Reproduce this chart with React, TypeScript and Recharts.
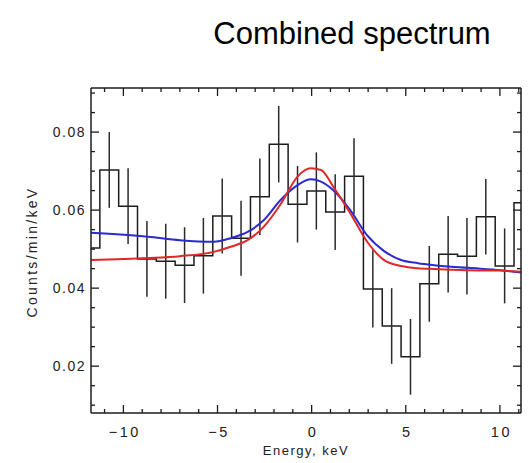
import { ComposedChart, Line, Scatter, ErrorBar, XAxis, YAxis } from 'recharts';

// histogram bin edges (keV) and count rate starting at each edge
const binEdges = [-11.72, -11.25, -10.25, -9.25, -8.25, -7.25, -6.25, -5.25, -4.25, -3.25, -2.25, -1.25, -0.25, 0.75, 1.75, 2.75, 3.75, 4.75, 5.75, 6.75, 7.75, 8.75, 9.75, 10.75, 11.12];
const binRates = [0.0503, 0.0703, 0.061, 0.0475, 0.0469, 0.0459, 0.0483, 0.0585, 0.0528, 0.0634, 0.0769, 0.0615, 0.0649, 0.0595, 0.0687, 0.0398, 0.0303, 0.0224, 0.0411, 0.0487, 0.0482, 0.0583, 0.0457, 0.0619, 0.0619];

// error bars at bin centres
const errCentres = [-10.75, -9.75, -8.75, -7.75, -6.75, -5.75, -4.75, -3.75, -2.75, -1.75, -0.75, 0.25, 1.25, 2.25, 3.25, 4.25, 5.25, 6.25, 7.25, 8.25, 9.25, 10.25];
const errRates = [0.0703, 0.061, 0.0475, 0.0469, 0.0459, 0.0483, 0.0585, 0.0528, 0.0634, 0.0769, 0.0615, 0.0649, 0.0595, 0.0687, 0.0398, 0.0303, 0.0224, 0.0411, 0.0487, 0.0482, 0.0583, 0.0457];
const errSizes = [0.0097, 0.0097, 0.0097, 0.0096, 0.0097, 0.0097, 0.0096, 0.0096, 0.0098, 0.0098, 0.0098, 0.0099, 0.0097, 0.0097, 0.0099, 0.0097, 0.0097, 0.0097, 0.0098, 0.0098, 0.0097, 0.0096];

// model curves
const modelEnergy = [-11.72, -8.7, -7.0, -5.2, -4.3, -3.4, -2.55, -1.65, -0.75, -0.05, 0.5, 1.15, 2.05, 2.95, 3.85, 4.75, 5.65, 6.5, 8.3, 10.05, 11.12];
const redModel = [0.0472, 0.0477, 0.0482, 0.0493, 0.0506, 0.0523, 0.0557, 0.0615, 0.0686, 0.0707, 0.0703, 0.066, 0.0592, 0.0519, 0.0472, 0.0457, 0.0451, 0.0449, 0.0446, 0.0445, 0.0442];
const blueModel = [0.0542, 0.0532, 0.0523, 0.0519, 0.0528, 0.0544, 0.0574, 0.0626, 0.0664, 0.0679, 0.0673, 0.0651, 0.06, 0.0535, 0.0495, 0.0472, 0.0464, 0.0459, 0.0452, 0.0446, 0.044];

const xTicks = [-11, -10, -9, -8, -7, -6, -5, -4, -3, -2, -1, 0, 1, 2, 3, 4, 5, 6, 7, 8, 9, 10, 11];
const yTicks = [0.01, 0.015, 0.02, 0.025, 0.03, 0.035, 0.04, 0.045, 0.05, 0.055, 0.06, 0.065, 0.07, 0.075, 0.08, 0.085, 0.09];
const yLabels = [0.02, 0.04, 0.06, 0.08];

const histData = binEdges.map((x, i) => ({ x, v: binRates[i] }));
const errData = errCentres.map((x, i) => ({ x, v: errRates[i], e: errSizes[i] }));
const redData = modelEnergy.map((x, i) => ({ x, v: redModel[i] }));
const blueData = modelEnergy.map((x, i) => ({ x, v: blueModel[i] }));

const INK = '#1c1c1c';
const FONT = '"Liberation Sans", Arial, sans-serif';

const isMajorX = (v: number) => Math.abs(v % 5) < 1e-6;
const isMajorY = (v: number) => yLabels.some((l) => Math.abs(l - v) < 1e-6);

const BottomTick = ({ x, y, payload }: any) => {
  const major = isMajorX(payload.value);
  return (
    <g>
      <line x1={x} x2={x} y1={y} y2={y - (major ? 8 : 4)} stroke={INK} strokeWidth={1.3} />
      {major && (
        <text x={x + 1.5} y={y + 24} textAnchor="middle" fontSize={14.5} letterSpacing={2.5} fill="#222" fontFamily={FONT}>
          {payload.value < 0 ? '\u2212' + Math.abs(payload.value) : payload.value}
        </text>
      )}
    </g>
  );
};

const TopTick = ({ x, y, payload }: any) => {
  const major = isMajorX(payload.value);
  return <line x1={x} x2={x} y1={y} y2={y + (major ? 8 : 4)} stroke={INK} strokeWidth={1.3} />;
};

const LeftTick = ({ x, y, payload }: any) => {
  const major = isMajorY(payload.value);
  return (
    <g>
      <line x1={x} x2={x + (major ? 8 : 4)} y1={y} y2={y} stroke={INK} strokeWidth={1.3} />
      {major && (
        <text x={x - 5} y={y + 5} textAnchor="end" fontSize={14} letterSpacing={1.5} fill="#222" fontFamily={FONT}>
          {payload.value.toFixed(2)}
        </text>
      )}
    </g>
  );
};

const RightTick = ({ x, y, payload }: any) => {
  const major = isMajorY(payload.value);
  return <line x1={x} x2={x - (major ? 8 : 4)} y1={y} y2={y} stroke={INK} strokeWidth={1.3} />;
};

const NoDot = () => <g />;

export default function App() {
  return (
    <div style={{ position: 'absolute', left: 0, top: 0, width: 529, height: 463, background: '#fff' }}>
      <ComposedChart width={529} height={463} margin={{ top: 87, right: 7, bottom: 49, left: 90 }}>
        <XAxis xAxisId="b" dataKey="x" type="number" domain={[-11.72, 11.12]} ticks={xTicks} allowDataOverflow
          orientation="bottom" height={1} tickSize={0} tickMargin={0} tick={<BottomTick />} axisLine={{ stroke: INK, strokeWidth: 1.5 }} tickLine={false} interval={0} />
        <XAxis xAxisId="t" dataKey="x" type="number" domain={[-11.72, 11.12]} ticks={xTicks} allowDataOverflow
          orientation="top" height={1} tickSize={0} tickMargin={0} tick={<TopTick />} axisLine={{ stroke: INK, strokeWidth: 1.5 }} tickLine={false} interval={0} />
        <YAxis yAxisId="l" type="number" domain={[0.008, 0.0913]} ticks={yTicks} allowDataOverflow
          orientation="left" width={1} tickSize={0} tickMargin={0} tick={<LeftTick />} axisLine={{ stroke: INK, strokeWidth: 1.5 }} tickLine={false} interval={0} />
        <YAxis yAxisId="r" type="number" domain={[0.008, 0.0913]} ticks={yTicks} allowDataOverflow
          orientation="right" width={1} tickSize={0} tickMargin={0} tick={<RightTick />} axisLine={{ stroke: INK, strokeWidth: 1.5 }} tickLine={false} interval={0} />

        <Line xAxisId="b" yAxisId="l" data={histData} dataKey="v" type="stepAfter" stroke={INK} strokeWidth={1.5}
          dot={false} activeDot={false} isAnimationActive={false} />
        <Scatter xAxisId="b" yAxisId="l" data={errData} dataKey="v" shape={<NoDot />} isAnimationActive={false}>
          <ErrorBar dataKey="e" direction="y" width={0} stroke="#2a2a2a" strokeWidth={1.5} isAnimationActive={false} />
        </Scatter>
        <Line xAxisId="b" yAxisId="l" data={blueData} dataKey="v" type="monotone" stroke="#2a2ad2" strokeWidth={2}
          dot={false} activeDot={false} isAnimationActive={false} />
        <Line xAxisId="b" yAxisId="l" data={redData} dataKey="v" type="monotone" stroke="#e02828" strokeWidth={2}
          dot={false} activeDot={false} isAnimationActive={false} />
        <Line xAxisId="t" yAxisId="r" data={blueData} dataKey="v" stroke="none" dot={false} activeDot={false} isAnimationActive={false} />

        <text x={352} y={44} textAnchor="middle" fontSize={31} fill="#000" fontFamily={FONT}>Combined spectrum</text>
        <text x={306} y={455} textAnchor="middle" fontSize={13} letterSpacing={1.5} fill="#222" fontFamily={FONT}>Energy, keV</text>
        <text x={37} y={252} transform="rotate(-90 37 252)" textAnchor="middle" fontSize={14} letterSpacing={2.3} fill="#222" fontFamily={FONT}>Counts/min/keV</text>
      </ComposedChart>
    </div>
  );
}
